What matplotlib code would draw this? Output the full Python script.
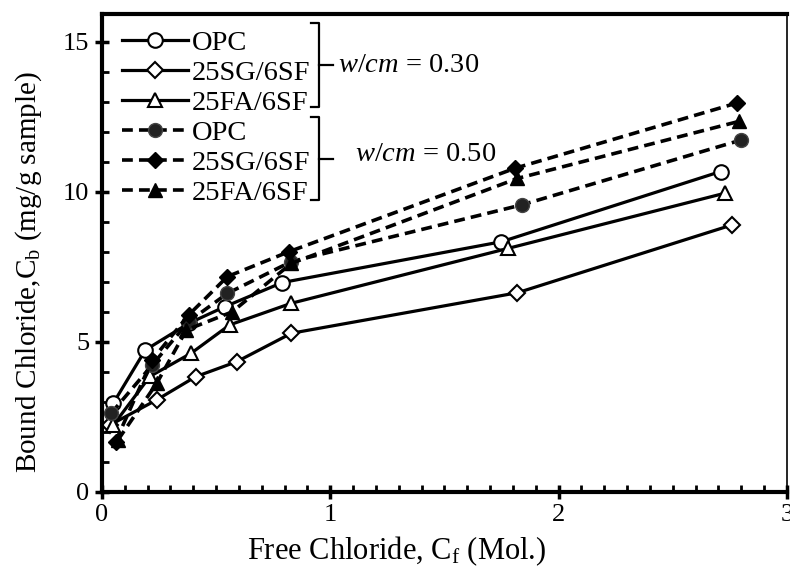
import matplotlib
matplotlib.use("Agg")
import matplotlib.pyplot as plt
from matplotlib.ticker import MultipleLocator

plt.rcParams['font.family'] = ['Liberation Serif', 'DejaVu Serif']
plt.rcParams['mathtext.fontset'] = 'custom'
plt.rcParams['mathtext.rm'] = 'Liberation Serif'
plt.rcParams['mathtext.it'] = 'Liberation Serif:italic'

# w/cm = 0.30 (solid, open markers)
opc30_x = [0.05, 0.19, 0.38, 0.54, 0.79, 1.75, 2.71]
opc30_y = [2.96, 4.73, 5.62, 6.18, 6.98, 8.34, 10.68]
sg30_x = [0.035, 0.24, 0.41, 0.59, 0.83, 1.82, 2.76]
sg30_y = [2.23, 3.07, 3.84, 4.34, 5.29, 6.64, 8.90]
fa30_x = [0.05, 0.21, 0.39, 0.56, 0.83, 1.78, 2.73]
fa30_y = [2.23, 3.85, 4.62, 5.57, 6.29, 8.12, 9.96]
# w/cm = 0.50 (dashed, filled markers)
opc50_x = [0.04, 0.22, 0.38, 0.55, 0.83, 1.84, 2.80]
opc50_y = [2.62, 4.23, 5.68, 6.62, 7.68, 9.57, 11.73]
sg50_x = [0.06, 0.22, 0.38, 0.55, 0.82, 1.81, 2.78]
sg50_y = [1.68, 4.40, 5.90, 7.18, 8.01, 10.79, 12.96]
fa50_x = [0.07, 0.24, 0.37, 0.57, 0.83, 1.82, 2.79]
fa50_y = [1.73, 3.62, 5.40, 6.00, 7.62, 10.45, 12.35]

labels = ['OPC', '25SG/6SF', '25FA/6SF', 'OPC', '25SG/6SF', '25FA/6SF']
x_ticks = [0, 1, 2, 3]
y_ticks = [0, 5, 10, 15]

fig = plt.figure(figsize=(7.9, 5.73), dpi=100)
ax = fig.add_axes([0.129, 0.1414, 0.867, 0.8342])

lw = 2.3
lwd = 2.6
dash = (0, (3.0, 1.7))
ax.plot(opc30_x, opc30_y, '-', color='black', lw=lw, marker='o', ms=10.5,
        mfc='white', mec='black', mew=1.5, label=labels[0])
ax.plot(sg30_x, sg30_y, '-', color='black', lw=lw, marker='D', ms=8,
        mfc='white', mec='black', mew=1.5, label=labels[1])
ax.plot(fa30_x, fa30_y, '-', color='black', lw=lw, marker='^', ms=10.5,
        mfc='white', mec='black', mew=1.5, label=labels[2])
ax.plot(opc50_x, opc50_y, linestyle=dash, color='black', lw=lwd, marker='o', ms=10,
        mfc='#222222', mec='#444444', mew=1, label=labels[3])
ax.plot(sg50_x, sg50_y, linestyle=dash, color='black', lw=lwd, marker='D', ms=8,
        mfc='black', mec='black', mew=1, label=labels[4])
ax.plot(fa50_x, fa50_y, linestyle=dash, color='black', lw=lwd, marker='^', ms=10,
        mfc='black', mec='black', mew=1, label=labels[5])

ax.set_xlim(0, 3)
ax.set_ylim(0, 15.93)
ax.set_xticks(x_ticks)
ax.set_yticks(y_ticks)
ax.xaxis.set_minor_locator(MultipleLocator(0.1))
ax.yaxis.set_minor_locator(MultipleLocator(1))
ax.tick_params(which='major', direction='inout', length=10, width=2.5, labelsize=19, pad=4)
ax.tick_params(which='minor', direction='in', length=5, width=2)

for s in ['left', 'bottom', 'top']:
    ax.spines[s].set_linewidth(3)
ax.spines['right'].set_linewidth(1.2)

ax.set_xlabel(r'Free Chloride, C$_\mathrm{f}$ (Mol.)', fontsize=22)
ax.set_ylabel(r'Bound Chloride,C$_\mathrm{b}$ (mg/g sample)', fontsize=21)
ax.xaxis.set_label_coords(0.43, -0.088, transform=ax.transAxes)
ax.xaxis.label.set_va('top')
ax.yaxis.set_label_coords(-0.085, 0.46, transform=ax.transAxes)

leg = ax.legend(loc='upper left', frameon=False, fontsize=20.5, handlelength=2.3,
                handletextpad=0.15, labelspacing=0.14, borderaxespad=0.0,
                borderpad=0.0, bbox_to_anchor=(0.03, 0.966))

# brackets grouping the legend entries
def bracket(y0, y1, xb=0.317, w=0.012, tick=0.02):
    kw = dict(transform=ax.transAxes, color='black', lw=1.6, clip_on=False)
    ax.plot([xb - w, xb, xb, xb - w], [y0, y0, y1, y1], **kw)
    ym = (y0 + y1) / 2
    ax.plot([xb, xb + tick], [ym, ym], **kw)

bracket(0.981, 0.805)
bracket(0.784, 0.610)
ax.text(0.344, 0.893, r'$\mathit{w/cm}$ = 0.30', transform=ax.transAxes,
        fontsize=20.5, va='center', ha='left')
ax.text(0.369, 0.705, r'$\mathit{w/cm}$ = 0.50', transform=ax.transAxes,
        fontsize=20.5, va='center', ha='left')

fig.savefig('out.png', dpi=100)
